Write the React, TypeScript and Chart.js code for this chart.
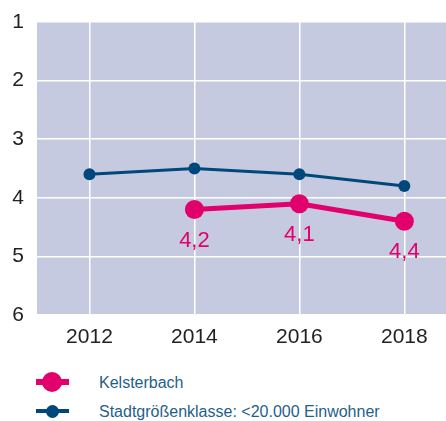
import React, { useEffect, useRef } from "react";
import { Chart, registerables } from "chart.js";

Chart.register(...registerables);

const years = [2012, 2014, 2016, 2018];
const kelsterbach: (number | null)[] = [null, 4.2, 4.1, 4.4];
const stadtklasse: number[] = [3.6, 3.5, 3.6, 3.8];
const kelsterbachLabels = ["", "4,2", "4,1", "4,4"];
const yTicks = [1, 2, 3, 4, 5, 6];

const PINK = "#e2006d";
const NAVY = "#00487c";
const BG = "#c6cae0";
const FONT = "'Liberation Sans', Arial, sans-serif";

export default function App() {
  const ref = useRef<HTMLCanvasElement | null>(null);

  useEffect(() => {
    const canvas = ref.current;
    if (!canvas) return;
    const bgPlugin = {
      id: "bgArea",
      beforeDraw(chart: any) {
        const { ctx, chartArea } = chart;
        ctx.save();
        ctx.fillStyle = BG;
        ctx.fillRect(chartArea.left, chartArea.top, chartArea.right - chartArea.left, chartArea.bottom - chartArea.top);
        ctx.restore();
      },
    };
    const labelPlugin = {
      id: "pinkLabels",
      afterDatasetsDraw(chart: any) {
        const meta = chart.getDatasetMeta(0);
        const { ctx } = chart;
        ctx.save();
        ctx.fillStyle = PINK;
        ctx.font = `22px ${FONT}`;
        ctx.textAlign = "center";
        ctx.textBaseline = "middle";
        meta.data.forEach((pt: any, i: number) => {
          const t = kelsterbachLabels[i];
          if (!t || kelsterbach[i] == null) return;
          ctx.fillText(t, pt.x, pt.y + 31);
        });
        ctx.restore();
      },
    };
    const chart = new Chart(canvas, {
      type: "line",
      data: {
        datasets: [
          {
            label: "Kelsterbach",
            data: years.map((x, i) => ({ x, y: kelsterbach[i] })) as any,
            borderColor: PINK,
            backgroundColor: PINK,
            borderWidth: 5,
            pointRadius: 9.5,
            pointHoverRadius: 9.5,
            pointBorderWidth: 0,
            spanGaps: false,
          },
          {
            label: "Stadtgrößenklasse: <20.000 Einwohner",
            data: years.map((x, i) => ({ x, y: stadtklasse[i] })) as any,
            borderColor: NAVY,
            backgroundColor: NAVY,
            borderWidth: 3,
            pointRadius: 6,
            pointHoverRadius: 6,
            pointBorderWidth: 0,
          },
        ],
      },
      options: {
        responsive: false,
        devicePixelRatio: 1,
        animation: false,
        layout: { autoPadding: false, padding: { top: 22, left: 0, right: 0, bottom: 0 } },
        plugins: {
          legend: { display: false },
          tooltip: { enabled: false },
        },
        scales: {
          x: {
            type: "linear",
            min: 2011,
            max: 2018.794,
            afterBuildTicks(scale: any) {
              scale.ticks = years.map((v) => ({ value: v }));
            },
            afterFit(scale: any) {
              scale.height = 30;
              scale.paddingLeft = 0;
              scale.paddingRight = 0;
            },
            ticks: {
              padding: 10,
              color: "#222222",
              font: { family: FONT, size: 21 },
              callback: (v: any) => String(v),
              maxRotation: 0,
            },
            grid: { color: "#ffffff", lineWidth: 1.5, drawTicks: false },
            border: { display: false },
          },
          y: {
            type: "linear",
            reverse: true,
            min: 1,
            max: 6,
            afterBuildTicks(scale: any) {
              scale.ticks = yTicks.map((v) => ({ value: v }));
            },
            afterFit(scale: any) {
              scale.width = 37;
              scale.paddingTop = 0;
              scale.paddingBottom = 0;
            },
            ticks: {
              padding: 13,
              color: "#222222",
              font: { family: FONT, size: 21 },
              callback: (v: any) => String(v),
            },
            grid: { color: "#ffffff", lineWidth: 1.5, drawTicks: false },
            border: { display: false },
          },
        },
      },
      plugins: [bgPlugin, labelPlugin],
    });
    return () => chart.destroy();
  }, []);

  const legendText: React.CSSProperties = {
    position: "absolute",
    left: 99,
    fontFamily: FONT,
    fontSize: 16,
    color: "#1f5f8b",
    lineHeight: "18px",
    whiteSpace: "nowrap",
  };

  return (
    <div style={{ position: "absolute", left: 0, top: 0, width: 446, height: 421, background: "#fff" }}>
      <canvas ref={ref} width={446} height={345} style={{ position: "absolute", left: 0, top: 0 }} />
      {/* legend: Kelsterbach */}
      <div style={{ position: "absolute", left: 36, top: 379, width: 33, height: 6, background: PINK }} />
      <div style={{ position: "absolute", left: 42, top: 372, width: 20, height: 20, borderRadius: "50%", background: PINK }} />
      <div style={{ ...legendText, top: 374 }}>Kelsterbach</div>
      {/* legend: Stadtgrößenklasse */}
      <div style={{ position: "absolute", left: 36, top: 409, width: 33, height: 4, background: NAVY }} />
      <div style={{ position: "absolute", left: 46, top: 405, width: 13, height: 13, borderRadius: "50%", background: NAVY }} />
      <div style={{ ...legendText, top: 403 }}>Stadtgrößenklasse: &lt;20.000 Einwohner</div>
    </div>
  );
}
